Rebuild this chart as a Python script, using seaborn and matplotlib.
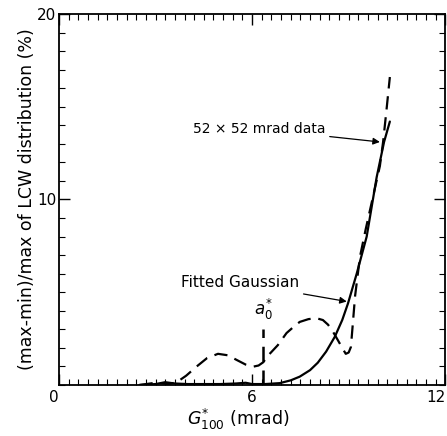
import matplotlib
matplotlib.use("Agg")
import matplotlib.pyplot as plt
import seaborn as sns
import pandas as pd
from matplotlib.ticker import MultipleLocator

sns.set_theme(style="white")
plt.rcParams['font.family'] = ['DejaVu Sans']
plt.rcParams['text.color'] = 'black'
plt.rcParams['axes.labelcolor'] = 'black'

# data
data_x = [2.5, 3.0, 3.4, 3.66, 3.95, 4.28, 4.6, 4.94, 5.25, 5.52, 5.8, 6.04,
          6.2, 6.35, 6.45, 6.8, 7.07, 7.3, 7.48, 7.75, 8.0, 8.2, 8.36, 8.52,
          8.67, 8.8, 8.91, 9.0, 9.07, 9.2, 9.35, 9.53, 9.75, 9.97, 10.07,
          10.18, 10.28]
data_y = [0.0, 0.12, 0.05, 0.15, 0.5, 1.0, 1.45, 1.68, 1.6, 1.35, 1.1, 0.99,
          1.05, 1.23, 1.5, 2.15, 2.8, 3.15, 3.4, 3.55, 3.6, 3.5, 3.25, 2.85,
          2.4, 2.0, 1.68, 1.75, 2.05, 4.8, 6.9, 8.4, 10.1, 11.8, 13.1, 14.9,
          16.6]
fit_x = [2.5, 3.0, 3.3, 3.6, 4.0, 4.5, 5.0, 5.5, 5.8, 6.0, 6.4, 6.86, 7.2,
         7.48, 7.8, 8.04, 8.3, 8.57, 8.8, 8.98, 9.25, 9.56, 9.87, 10.1, 10.28]
fit_y = [0.0, 0.05, 0.15, 0.08, 0.05, 0.05, 0.05, 0.08, 0.12, 0.05, 0.05, 0.1,
         0.25, 0.45, 0.8, 1.2, 1.8, 2.6, 3.5, 4.4, 6.0, 8.0, 11.2, 13.1, 14.2]
a0_x = 6.35
a0_top = 3.0
x_ticks = [0, 6, 12]
y_ticks = [10, 20]

fig = plt.figure(figsize=(4.47, 4.36), dpi=100)
ax = fig.add_axes([0.132, 0.117, 0.864, 0.851])

df_data = pd.DataFrame({"x": data_x, "y": data_y})
df_fit = pd.DataFrame({"x": fit_x, "y": fit_y})
sns.lineplot(data=df_data, x="x", y="y", ax=ax, color="black", lw=1.6,
             linestyle=(0, (6, 3.5)), sort=False)
sns.lineplot(data=df_fit, x="x", y="y", ax=ax, color="black", lw=1.6, sort=False)
ax.plot([a0_x, a0_x], [0, a0_top], color="black", lw=1.8, linestyle=(0, (6, 3.5)))
ax.text(a0_x, a0_top + 0.4, r"$a_0^{*}$", ha="center", va="bottom", fontsize=12)

ax.annotate("52 × 52 mrad data", xy=(9.97, 13.1), xytext=(4.15, 13.8),
            fontsize=10, va="center", ha="left",
            arrowprops=dict(arrowstyle="-|>", color="black", lw=0.9,
                            mutation_scale=10, shrinkA=1, shrinkB=0))
ax.annotate("Fitted Gaussian", xy=(8.94, 4.5), xytext=(3.8, 5.5),
            fontsize=11, va="center", ha="left",
            arrowprops=dict(arrowstyle="-|>", color="black", lw=0.9,
                            mutation_scale=10, shrinkA=1, shrinkB=0))

ax.set_xlim(0, 12)
ax.set_ylim(0, 20)
ax.set_xticks(x_ticks)
ax.set_yticks(y_ticks)
ax.xaxis.set_minor_locator(MultipleLocator(0.3))
ax.yaxis.set_minor_locator(MultipleLocator(1))
ax.tick_params(which="both", direction="in", top=True, right=True,
               bottom=True, left=True, colors="black", labelsize=11)
ax.tick_params(which="major", length=8, width=1)
ax.tick_params(which="minor", length=4, width=0.8)
ax.tick_params(axis="y", which="major", pad=2)
for s in ax.spines.values():
    s.set_color("black")
    s.set_linewidth(1.3)

xl = ax.get_xticklabels()
xl[0].set_horizontalalignment("right")
xl[-1].set_horizontalalignment("right")

ax.set_xlabel(r"$G^{*}_{100}$ (mrad)", fontsize=12.5)
ax.xaxis.set_label_coords(0.464, -0.06)
ax.set_ylabel("(max-min)/max of LCW distribution (%)", fontsize=12.5)
ax.yaxis.set_label_coords(-0.06, 0.5)

fig.savefig("out.png", dpi=100)
